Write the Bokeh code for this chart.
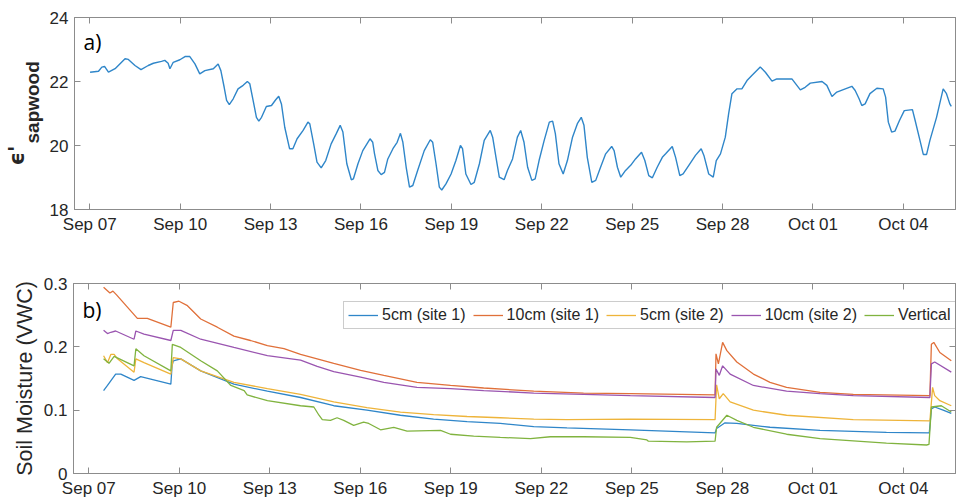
import pandas as pd
from bokeh.plotting import figure
from bokeh.models import (Range1d, FixedTicker, DatetimeTickFormatter, LinearAxis,
                          DatetimeAxis, Label, Legend, LegendItem, CustomJSTickFormatter)
from bokeh.layouts import column, row
from bokeh.embed import file_html
from bokeh.resources import INLINE

BASE = pd.Timestamp("2018-09-07 00:00")
X_START = "2018-09-06 11:50"
X_END = "2018-10-05 17:30"
TICK_DATES = ["2018-09-07", "2018-09-10", "2018-09-13", "2018-09-16", "2018-09-19",
              "2018-09-22", "2018-09-25", "2018-09-28", "2018-10-01", "2018-10-04"]

# ---- panel a: sapwood permittivity (days since Sep 07, value)
sap_days = [0.01, 0.29, 0.40, 0.49, 0.62, 0.84, 1.17, 1.28, 1.50, 1.70, 1.94, 2.11, 2.38, 2.49,
            2.60, 2.66, 2.77, 2.99, 3.16, 3.32, 3.49, 3.65, 3.82, 4.10, 4.26, 4.35, 4.46, 4.54,
            4.63, 4.76, 4.92, 5.09, 5.23, 5.31, 5.42, 5.53, 5.61, 5.70, 5.86, 6.03, 6.17, 6.27,
            6.36, 6.47, 6.63, 6.74, 6.88, 7.08, 7.24, 7.30, 7.43, 7.54, 7.68, 7.83, 8.01, 8.18,
            8.31, 8.40, 8.53, 8.68, 8.75, 8.90, 9.06, 9.30, 9.39, 9.45, 9.56, 9.67, 9.78, 9.89,
            10.06, 10.20, 10.31, 10.39, 10.50, 10.61, 10.72, 10.88, 11.10, 11.30, 11.38, 11.49,
            11.60, 11.68, 11.82, 11.99, 12.15, 12.30, 12.37, 12.48, 12.65, 12.76, 12.93, 13.09,
            13.29, 13.37, 13.48, 13.59, 13.75, 13.86, 14.03, 14.19, 14.30, 14.41, 14.53, 14.67,
            14.78, 14.91, 15.08, 15.25, 15.36, 15.45, 15.57, 15.71, 15.85, 16.02, 16.18, 16.31,
            16.40, 16.51, 16.66, 16.79, 16.95, 17.12, 17.32, 17.40, 17.51, 17.62, 17.78, 17.95,
            18.11, 18.31, 18.42, 18.55, 18.67, 18.83, 19.00, 19.11, 19.33, 19.44, 19.58, 19.69,
            19.88, 20.10, 20.29, 20.38, 20.54, 20.69, 20.79, 20.93, 21.09, 21.20, 21.31, 21.48,
            21.64, 21.81, 21.97, 22.25, 22.42, 22.64, 22.80, 23.30, 23.58, 23.74, 23.91, 24.30,
            24.46, 24.63, 24.79, 25.29, 25.40, 25.53, 25.62, 25.73, 25.89, 26.12, 26.33, 26.41,
            26.50, 26.61, 26.72, 26.87, 27.03, 27.30, 27.39, 27.55, 27.66, 27.77, 27.88, 28.10,
            28.32, 28.43, 28.54, 28.59]
sap_eps = [22.29, 22.32, 22.45, 22.47, 22.29, 22.40, 22.71, 22.69, 22.50, 22.37, 22.50, 22.57,
           22.63, 22.66, 22.57, 22.40, 22.60, 22.68, 22.78, 22.78, 22.55, 22.24, 22.34, 22.40,
           22.55, 22.34, 21.82, 21.41, 21.28, 21.46, 21.77, 21.88, 22.00, 21.93, 21.41, 20.88,
           20.76, 20.88, 21.22, 21.25, 21.43, 21.54, 21.30, 20.57, 19.90, 19.90, 20.21, 20.47,
           20.73, 20.68, 20.05, 19.48, 19.30, 19.53, 20.05, 20.37, 20.63, 20.42, 19.43, 18.93,
           18.96, 19.43, 19.84, 20.21, 20.10, 19.74, 19.22, 19.09, 19.16, 19.58, 19.90, 20.10,
           20.38, 20.10, 19.32, 18.70, 18.75, 19.22, 19.84, 20.18, 20.10, 19.43, 18.70, 18.61,
           18.80, 19.11, 19.53, 20.00, 19.90, 19.11, 18.78, 18.85, 19.43, 20.16, 20.47, 20.26,
           19.63, 19.01, 18.93, 19.22, 19.58, 20.26, 20.47, 20.10, 19.32, 18.91, 18.96, 19.53,
           20.16, 20.73, 20.76, 20.37, 19.43, 19.11, 19.53, 20.26, 20.68, 20.88, 20.63, 19.63,
           18.85, 18.91, 19.32, 19.74, 19.97, 19.84, 19.32, 19.01, 19.22, 19.38, 19.58, 19.79,
           19.53, 19.06, 18.99, 19.32, 19.63, 19.74, 19.97, 19.63, 19.06, 19.11, 19.38, 19.69,
           19.90, 19.69, 19.11, 19.01, 19.53, 19.74, 20.26, 20.99, 21.62, 21.77, 21.77, 22.03,
           22.19, 22.45, 22.29, 22.01, 22.08, 22.08, 21.74, 21.82, 21.95, 22.00, 21.88, 21.53,
           21.67, 21.85, 21.72, 21.46, 21.25, 21.30, 21.62, 21.79, 21.77, 21.51, 20.73, 20.42,
           20.45, 20.78, 21.09, 21.12, 20.78, 20.16, 19.72, 19.72, 20.16, 20.88, 21.77, 21.62,
           21.30, 21.22]

# ---- panel b: soil moisture (days since Sep 07, VWC)
s1_5cm_days = [0.49, 0.62, 0.89, 1.06, 1.50, 1.72, 2.72, 2.76, 2.80, 3.05, 3.71, 4.81, 5.92,
               7.02, 8.12, 9.22, 10.33, 11.43, 12.54, 13.64, 14.75, 15.85, 17.95, 20.76, 20.81,
               21.09, 21.48, 22.58, 24.24, 26.44, 27.86, 27.93, 28.04, 28.32, 28.59]
s1_5cm_vwc = [0.131, 0.139, 0.157, 0.157, 0.147, 0.153, 0.141, 0.170, 0.178, 0.181, 0.162,
              0.141, 0.130, 0.120, 0.107, 0.100, 0.092, 0.086, 0.082, 0.079, 0.074, 0.072,
              0.069, 0.064, 0.071, 0.080, 0.079, 0.073, 0.068, 0.065, 0.064, 0.102, 0.105,
              0.100, 0.095]
s1_10cm_days = [0.49, 0.70, 0.80, 0.92, 1.61, 1.94, 2.72, 2.80, 2.99, 3.27, 3.71, 4.26, 4.81,
                5.36, 5.92, 6.47, 7.02, 7.57, 8.12, 9.01, 9.78, 10.88, 11.99, 13.09, 14.75,
                16.40, 17.95, 20.76, 20.79, 20.87, 21.01, 21.15, 21.48, 22.03, 22.58, 23.13,
                24.24, 25.34, 27.88, 27.93, 28.01, 28.21, 28.59]
s1_10cm_vwc = [0.294, 0.285, 0.288, 0.282, 0.245, 0.245, 0.231, 0.270, 0.272, 0.265, 0.244,
               0.231, 0.217, 0.210, 0.202, 0.197, 0.188, 0.181, 0.174, 0.163, 0.155, 0.144,
               0.139, 0.135, 0.130, 0.127, 0.126, 0.124, 0.189, 0.173, 0.207, 0.194, 0.176,
               0.157, 0.144, 0.136, 0.128, 0.125, 0.123, 0.204, 0.207, 0.191, 0.178]
s2_5cm_days = [0.49, 0.62, 0.73, 0.84, 0.95, 1.50, 1.56, 1.83, 2.72, 2.80, 3.05, 3.71, 4.81,
               5.92, 7.02, 8.12, 9.22, 10.33, 11.43, 12.54, 13.64, 14.75, 15.85, 17.95, 20.76,
               20.81, 20.90, 21.03, 21.26, 22.03, 23.13, 25.34, 27.88, 27.97, 28.04, 28.21, 28.59]
s2_5cm_vwc = [0.186, 0.175, 0.188, 0.188, 0.181, 0.160, 0.181, 0.175, 0.157, 0.183, 0.181,
              0.162, 0.144, 0.134, 0.125, 0.113, 0.104, 0.097, 0.093, 0.090, 0.088, 0.086,
              0.085, 0.086, 0.085, 0.140, 0.118, 0.126, 0.113, 0.100, 0.092, 0.085, 0.083,
              0.136, 0.123, 0.115, 0.107]
s2_10cm_days = [0.49, 0.62, 0.73, 0.89, 1.50, 1.56, 1.83, 2.72, 2.80, 3.05, 3.71, 4.81, 5.92,
                7.02, 7.57, 8.12, 9.01, 9.78, 10.88, 11.99, 13.09, 14.75, 16.40, 17.95, 20.76,
                20.79, 20.90, 21.01, 21.26, 22.03, 23.13, 24.24, 25.34, 27.88, 27.93, 28.04, 28.59]
s2_10cm_vwc = [0.226, 0.221, 0.223, 0.225, 0.212, 0.225, 0.220, 0.210, 0.226, 0.226, 0.212,
               0.199, 0.186, 0.179, 0.169, 0.161, 0.152, 0.144, 0.136, 0.134, 0.131, 0.127,
               0.125, 0.123, 0.120, 0.165, 0.155, 0.170, 0.157, 0.139, 0.130, 0.126, 0.123,
               0.120, 0.173, 0.176, 0.160]
vert_days = [0.49, 0.67, 0.84, 1.50, 1.56, 1.83, 2.72, 2.77, 3.05, 3.71, 4.26, 4.71, 5.15, 5.25,
             5.92, 7.02, 7.46, 7.63, 7.74, 8.01, 8.23, 8.45, 8.78, 9.11, 9.28, 9.67, 10.11,
             10.55, 11.66, 11.99, 12.76, 13.64, 14.64, 15.30, 16.40, 17.95, 18.50, 18.55, 19.82,
             20.76, 20.81, 21.15, 21.48, 22.03, 23.13, 24.24, 26.44, 27.77, 27.85, 27.93, 28.26,
             28.59]
vert_vwc = [0.181, 0.174, 0.185, 0.170, 0.197, 0.186, 0.162, 0.204, 0.199, 0.178, 0.162, 0.139,
            0.131, 0.124, 0.115, 0.107, 0.105, 0.092, 0.085, 0.084, 0.088, 0.084, 0.076, 0.081,
            0.079, 0.069, 0.073, 0.067, 0.068, 0.062, 0.059, 0.057, 0.055, 0.058, 0.058, 0.057,
            0.053, 0.051, 0.050, 0.051, 0.073, 0.092, 0.084, 0.073, 0.062, 0.055, 0.048, 0.045,
            0.046, 0.105, 0.107, 0.097]

series_names = ["5cm (site 1)", "10cm (site 1)", "5cm (site 2)", "10cm (site 2)", "Vertical"]
series_colors = ["#2f86c9", "#e0703a", "#eeb43a", "#9a55b0", "#80b33f"]

AXC = "#8c8c8c"
TXT = "#262626"
FONT = "Liberation Sans"
LABEL_W = 46   # width of the strip holding the rotated y label of panel a


def to_dt(days):
    return BASE + pd.to_timedelta(days, unit="D")


tick_ms = [pd.Timestamp(d).value // 10**6 for d in TICK_DATES]
x_range = Range1d(start=pd.Timestamp(X_START), end=pd.Timestamp(X_END))
blank = CustomJSTickFormatter(code="return ''")


def style(ax):
    ax.axis_line_color = AXC
    ax.major_tick_line_color = AXC
    ax.major_tick_in = 6
    ax.major_tick_out = 0
    ax.minor_tick_line_color = None
    ax.major_label_text_font = FONT
    ax.major_label_text_font_size = "17px"
    ax.major_label_text_color = TXT


def make_fig(width, left, yr, yticks, mb):
    p = figure(width=width, height=251, x_axis_type="datetime", x_range=x_range, y_range=yr,
               output_backend="svg", toolbar_location=None,
               min_border_left=left, min_border_right=mb[1], min_border_top=mb[0],
               min_border_bottom=mb[2])
    p.xgrid.visible = False
    p.ygrid.visible = False
    p.outline_line_color = AXC
    p.xaxis.ticker = FixedTicker(ticks=tick_ms)
    p.xaxis.formatter = DatetimeTickFormatter(days="%b %d", months="%b %d", hours="%b %d",
                                              years="%b %d")
    p.xaxis.major_label_standoff = 5
    p.yaxis.ticker = FixedTicker(ticks=yticks)
    p.yaxis.major_label_standoff = 6
    style(p.xaxis[0])
    style(p.yaxis[0])
    top = DatetimeAxis(ticker=FixedTicker(ticks=tick_ms), formatter=blank, major_label_standoff=0)
    right = LinearAxis(ticker=FixedTicker(ticks=yticks), formatter=blank, major_label_standoff=0)
    style(top)
    style(right)
    p.add_layout(top, "above")
    p.add_layout(right, "right")
    return p


# ---------------- y label strip for panel a (epsilon' with subscript "sapwood")
# (its frame is aligned with panel a's frame by the row layout: y is measured from frame bottom)
lab = figure(width=LABEL_W, height=251, x_range=Range1d(0, LABEL_W), y_range=Range1d(0, 251),
             output_backend="svg", toolbar_location=None, min_border=0,
             x_axis_location=None, y_axis_location=None)
lab.grid.visible = False
lab.outline_line_color = None
lab.add_layout(Label(x=28, y=44, x_units="screen", y_units="screen", text="ϵ'",
                     angle=90, angle_units="deg", text_font="DejaVu Sans",
                     text_font_style="bold", text_font_size="21px", text_color=TXT))
lab.add_layout(Label(x=42, y=66, x_units="screen", y_units="screen", text="sapwood",
                     angle=90, angle_units="deg", text_font=FONT,
                     text_font_style="bold", text_font_size="19px", text_color=TXT))

# ---------------- panel a
p1 = make_fig(957 - LABEL_W, 73 - LABEL_W, Range1d(18, 24), [18, 20, 22, 24], (17, 2, 42))
p1.line(to_dt(sap_days), sap_eps, line_color="#2f86c9", line_width=1.4)
p1.add_layout(Label(x=9, y=154, x_units="screen", y_units="screen", text="a)",
                    text_font="Open Sans", text_font_size="21px", text_color="#000000"))

# ---------------- panel b
p2 = make_fig(957, 73, Range1d(0, 0.3), [0, 0.1, 0.2, 0.3], (32, 2, 29))
p2.yaxis[0].major_label_overrides = {0: "0", 0.1: "0.1", 0.2: "0.2", 0.3: "0.3"}
p2.yaxis[0].axis_label = "Soil Moisture (VWC)"
p2.yaxis[0].axis_label_text_font = FONT
p2.yaxis[0].axis_label_text_font_size = "21.5px"
p2.yaxis[0].axis_label_text_font_style = "normal"
p2.yaxis[0].axis_label_text_color = TXT
p2.yaxis[0].axis_label_standoff = 4

all_days = [s1_5cm_days, s1_10cm_days, s2_5cm_days, s2_10cm_days, vert_days]
all_vals = [s1_5cm_vwc, s1_10cm_vwc, s2_5cm_vwc, s2_10cm_vwc, vert_vwc]
items = []
for name, col, d, v in zip(series_names, series_colors, all_days, all_vals):
    r = p2.line(to_dt(d), v, line_color=col, line_width=1.3)
    items.append(LegendItem(label=name, renderers=[r]))

legend = Legend(items=items, orientation="horizontal", location=(270, 144),
                label_text_font=FONT, label_text_font_size="16px", label_text_color=TXT,
                glyph_width=30, glyph_height=16, label_standoff=4, spacing=7, padding=4,
                margin=0, border_line_color="#9a9a9a", background_fill_color="white",
                background_fill_alpha=1.0)
p2.add_layout(legend, "center")
p2.add_layout(Label(x=9, y=150, x_units="screen", y_units="screen", text="b)",
                    text_font="Open Sans", text_font_size="21px", text_color="#000000"))

layout = column(row(lab, p1, spacing=0), p2, spacing=0)
open("out.html", "w").write(file_html(layout, INLINE))
